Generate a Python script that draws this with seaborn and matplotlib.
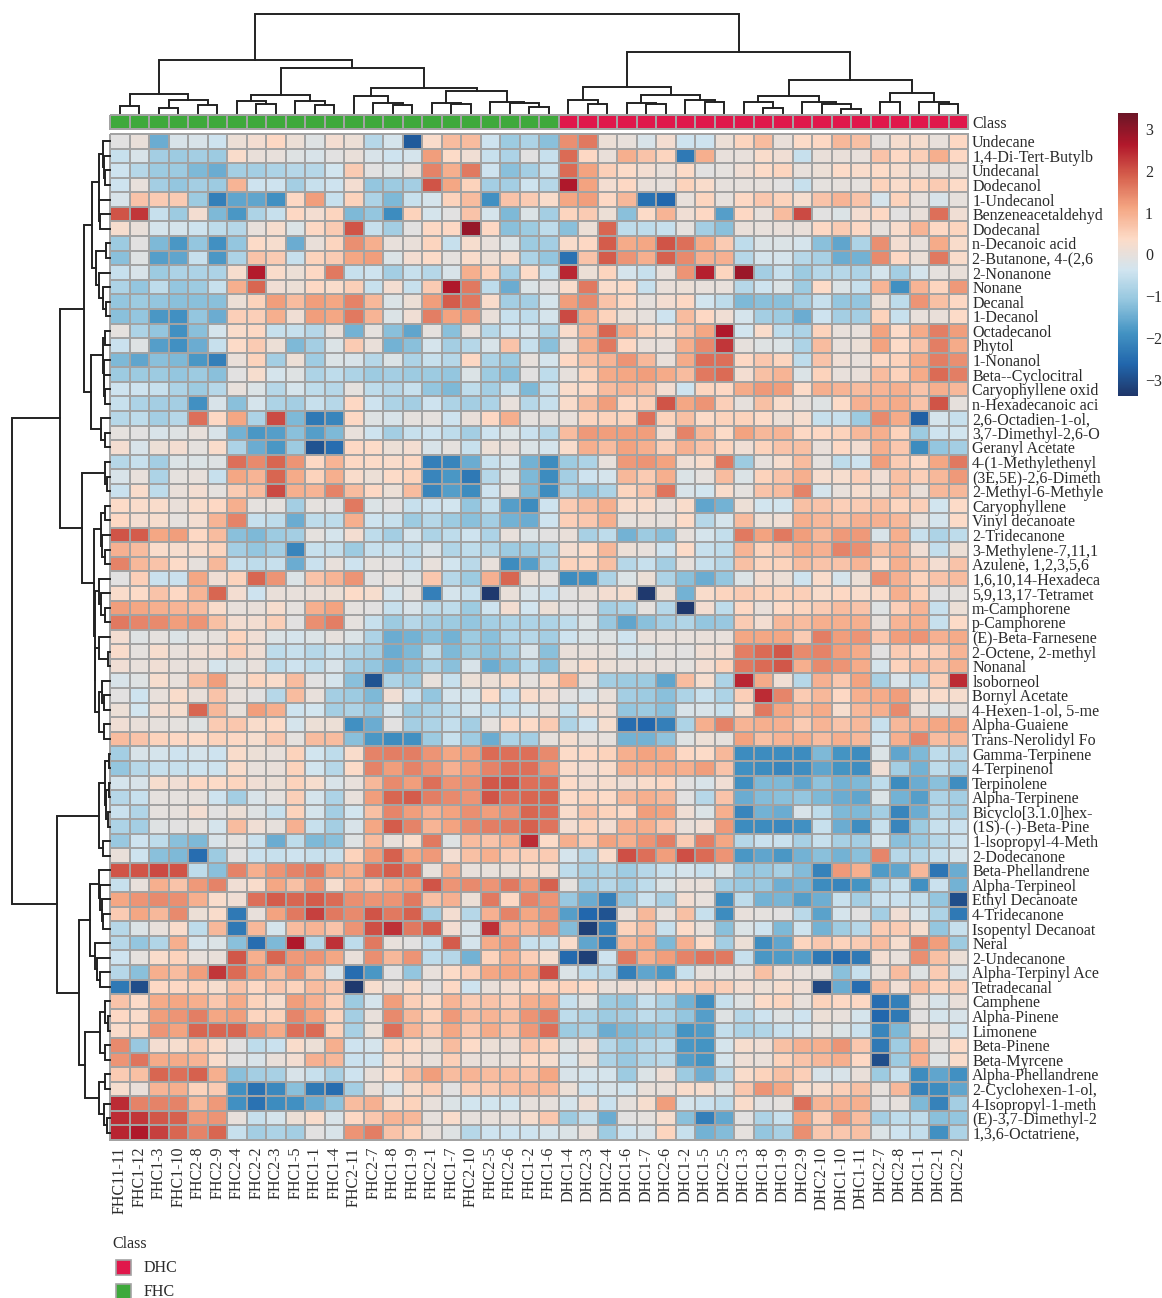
# Clustered heatmap of volatile compounds, FHC vs DHC samples
import numpy as np
import pandas as pd
import matplotlib
matplotlib.use('Agg')
import matplotlib.pyplot as plt
from matplotlib.colors import LinearSegmentedColormap, ListedColormap
from matplotlib.patches import Rectangle
import seaborn as sns

col_labels = ['FHC11-11', 'FHC1-12', 'FHC1-3', 'FHC1-10', 'FHC2-8', 'FHC2-9', 'FHC2-4', 'FHC2-2', 'FHC2-3',
              'FHC1-5', 'FHC1-1', 'FHC1-4', 'FHC2-11', 'FHC2-7', 'FHC1-8', 'FHC1-9', 'FHC2-1', 'FHC1-7',
              'FHC2-10', 'FHC2-5', 'FHC2-6', 'FHC1-2', 'FHC1-6', 'DHC1-4', 'DHC2-3', 'DHC2-4', 'DHC1-6',
              'DHC1-7', 'DHC2-6', 'DHC1-2', 'DHC1-5', 'DHC2-5', 'DHC1-3', 'DHC1-8', 'DHC1-9', 'DHC2-9',
              'DHC2-10', 'DHC1-10', 'DHC1-11', 'DHC2-7', 'DHC2-8', 'DHC1-1', 'DHC2-1', 'DHC2-2']

row_labels = ['Undecane', '1,4-Di-Tert-Butylb', 'Undecanal', 'Dodecanol', '1-Undecanol', 'Benzeneacetaldehyd',
              'Dodecanal', 'n-Decanoic acid', '2-Butanone, 4-(2,6', '2-Nonanone', 'Nonane', 'Decanal', '1-Decanol',
              'Octadecanol', 'Phytol', '1-Nonanol', 'Beta--Cyclocitral', 'Caryophyllene oxid', 'n-Hexadecanoic aci',
              '2,6-Octadien-1-ol,', '3,7-Dimethyl-2,6-O', 'Geranyl Acetate', '4-(1-Methylethenyl',
              '(3E,5E)-2,6-Dimeth', '2-Methyl-6-Methyle', 'Caryophyllene', 'Vinyl decanoate', '2-Tridecanone',
              '3-Methylene-7,11,1', 'Azulene, 1,2,3,5,6', '1,6,10,14-Hexadeca', '5,9,13,17-Tetramet', 'm-Camphorene',
              'p-Camphorene', '(E)-Beta-Farnesene', '2-Octene, 2-methyl', 'Nonanal', 'lsoborneol', 'Bornyl Acetate',
              '4-Hexen-1-ol, 5-me', 'Alpha-Guaiene', 'Trans-Nerolidyl Fo', 'Gamma-Terpinene', '4-Terpinenol',
              'Terpinolene', 'Alpha-Terpinene', 'Bicyclo[3.1.0]hex-', '(1S)-(-)-Beta-Pine', '1-lsopropyl-4-Meth',
              '2-Dodecanone', 'Beta-Phellandrene', 'Alpha-Terpineol', 'Ethyl Decanoate', '4-Tridecanone',
              'Isopentyl Decanoat', 'Neral', '2-Undecanone', 'Alpha-Terpinyl Ace', 'Tetradecanal', 'Camphene',
              'Alpha-Pinene', 'Limonene', 'Beta-Pinene', 'Beta-Myrcene', 'Alpha-Phellandrene', '2-Cyclohexen-1-ol,',
              '4-Isopropyl-1-meth', '(E)-3,7-Dimethyl-2', '1,3,6-Octatriene,']

# first 22 columns of the heatmap
values_left = [
    [-.1,.05,-1.5,-.25,-.25,-.4,.1,.2,.4,.1,-.15,.2,.1,-.7,-.3,-2.8,.3,.8,.8,-.4,-1.0,-.8],
    [-.5,-.25,-.9,-1.0,-.9,-1.0,.3,.05,0,-.15,-.25,-.1,.05,-.25,-.4,-.3,1.2,.35,.15,-.5,-.8,-.1],
    [-.4,-.7,-1.0,-1.0,-1.3,-1.5,-.9,-.9,-.8,-.7,-.7,-.35,.6,-.1,-.2,.05,1.5,1.0,1.6,-.4,-1.2,-.9],
    [-.4,0,-.9,-1.1,-.9,-1.0,.9,-.4,-.4,-.9,-.5,-.4,.2,-1.1,-1.0,-.9,2.0,1.1,.5,-.9,-.9,-.4],
    [-.25,.7,.6,.6,-1.0,-2.2,-1.6,-1.6,-1.9,.4,1.2,-.5,.5,-.8,-1.3,-.5,-.3,.5,.8,-1.9,.7,.6],
    [2.0,2.3,-.5,-1.0,.2,-1.3,-1.8,-.8,-.5,.4,.2,.45,-1.3,-1.1,-2.0,.5,-.3,-.1,.7,-.3,-1.3,-.2],
    [.25,.05,-.3,-.3,-.4,-.6,-.7,0,.25,-.2,.4,.6,2.0,-.5,-.9,-.1,.4,.4,2.9,.4,-1.2,-1.0],
    [-1.0,-.1,-1.3,-1.8,-1.1,-1.9,-1.1,.35,.25,-1.5,.05,.45,1.35,1.0,.0,.05,.45,-.5,.25,0,-.2,-1.0],
    [-1.2,-.15,-1.7,-1.6,-.5,-1.8,-.8,.7,.6,-.5,.5,.6,1.1,1.2,-.2,.2,.35,-.05,.3,.1,.25,-.8],
    [-.5,-.25,-1.0,-.8,-.8,-.8,.25,2.6,.3,.1,.4,1.6,-.5,-.4,-.9,-.5,-.7,-.25,1.0,.5,-.9,.35],
    [-.8,-1.1,-.6,-1.1,-1.0,-.5,1.0,1.8,.15,.1,.4,.3,.55,-.5,.2,-.5,.6,2.65,1.6,-.6,-1.5,-.2],
    [-1.1,-1.0,-1.1,-1.2,-1.2,-1.2,.1,.5,1.2,.8,1.2,1.1,1.5,.85,-.2,.1,1.2,1.9,1.6,.3,-.9,-.9],
    [-1.2,-1.1,-1.8,-1.9,-1.1,-1.5,.55,.55,1.0,.15,1.2,1.1,1.6,.9,-.2,.15,1.55,1.15,1.25,.05,-.5,-.6],
    [-.05,-.8,-1.1,-1.9,-1.2,-.3,.3,.4,-.5,-.5,-.7,0,-1.4,-.05,-1.2,-1.6,-.05,-1.2,0,-.7,-.4,-.3],
    [-.45,-.15,-1.7,-1.9,-1.5,-.5,.35,.6,.1,-1.3,-.9,-.2,.6,.05,-1.4,-1.2,-.3,-.9,-.7,-.25,.7,-.5],
    [-1.3,-1.6,-1.2,-1.3,-1.8,-2.2,.05,.5,-.9,.1,-.95,-.2,-.25,-.7,-.2,-.8,-.5,-.7,.4,-.8,-1.0,.0],
    [-1.0,-1.0,-1.0,-1.1,-1.0,-1.2,-.1,.25,-.3,-.15,-.8,-.6,-.8,-1.0,-.9,-1.0,-1.0,-1.1,-.2,-1.0,-1.2,-.1],
    [-.4,-.4,-.5,-.8,-1.0,-.7,0,-.2,-.7,-.3,-.6,-.7,-.05,-.6,-.7,-.5,-1.1,-1.3,-.6,-.9,-.5,-1.3],
    [-.5,-.8,-.9,-.9,-1.9,-.25,-1.2,-.3,-.8,-.9,-.5,-.7,.4,-.4,-.8,-.9,-.4,-.8,-.9,-.8,0,-.7],
    [-.7,-.6,-.9,-.7,1.7,.4,1.1,-.8,2.1,-1.3,-2.3,-2.1,.4,-.15,-.25,-.05,-.05,-.4,.05,.4,1.0,-.05],
    [-.05,-.1,-.25,-.15,0,-.25,-1.4,-1.8,-1.7,-1.2,-1.7,-1.3,0,-.4,-.9,-.5,-.4,-.6,-.9,-.4,-.2,-.45],
    [.2,-.25,.1,.2,-.05,.3,-.8,-1.5,-1.8,-1.0,-2.9,-2.5,.4,.35,.1,.2,-.25,-.05,-.5,.1,.05,-.2],
    [-.7,-.5,-.9,-.2,-.2,-.15,1.7,1.4,1.8,1.3,.4,.9,.4,.35,.3,.4,-2.2,-2.1,-1.5,-.5,-.3,-1.4],
    [-.25,.02,-.8,-.05,0,-.5,1.1,.9,1.8,1.05,.5,1.0,.3,.1,.35,.5,-2.1,-1.8,-2.3,-.7,-.2,-1.3],
    [-.45,.3,-.6,.05,.2,-.05,.6,.8,2.1,1.0,.9,1.5,.8,.4,.1,.8,-2.1,-1.7,-2.0,-.4,-.05,-1.3],
    [.35,.3,.3,.05,.3,.4,1.0,-.05,-.05,-.9,-.05,-.1,1.6,-.2,-.1,-.5,-.4,-.35,-1.1,-.5,-1.7,-2.0],
    [.4,.2,.25,-.05,.2,.9,1.5,-.5,-.6,-1.5,-.6,-.6,1.0,-.4,-.5,-1.0,-.7,-1.0,-1.2,-.9,-1.4,-1.5],
    [2.0,1.9,1.1,1.2,.4,.8,-1.2,-1.3,-1.0,-.9,-.05,-.3,.2,-.6,-.9,-.3,-.8,-.6,-.4,-.8,0,-.2],
    [.95,.8,.3,.25,.3,.45,-.9,-1.1,-.9,-2.1,-.5,-.55,-1.0,-.5,-.5,-.6,-.25,-.75,-.6,-.7,-1.0,-.95],
    [1.5,.85,.7,.35,-.02,.85,-.5,-.6,-.5,-1.5,-.45,.0,-.4,-.05,-.1,-.45,0,-.35,-.65,.0,-2.0,-1.7],
    [-.1,.55,-.45,-.45,1.1,.15,.5,1.8,1.3,-.2,.7,.9,1.3,-.1,.0,-.15,.65,-.7,-1.0,.95,1.8,.1],
    [.3,.35,.7,.4,.9,1.8,.2,-.4,.05,0,.05,.1,.35,.25,-.3,-.05,-2.2,-.3,-.5,-3.3,.05,-.25],
    [1.2,1.1,1.0,.9,.8,.3,0,.05,.25,-.05,1.0,1.15,-.05,-.1,-.5,-.25,-.6,-.6,-1.0,-.4,.2,-.35],
    [1.6,1.45,1.4,1.2,1.3,.75,.2,.2,.55,-.1,1.35,1.55,-.05,-.5,-1.0,-.7,-.9,-1.0,-1.1,-.9,-.8,-.8],
    [.2,-.15,-.05,-.2,-.05,-.02,.45,.15,-.2,-.3,-.2,-.02,-.2,-.8,-1.5,-1.4,-1.2,-1.4,-1.0,-1.2,-.75,-.7],
    [.3,-.05,.25,0,.15,.2,.55,.15,-.6,-.5,-.7,-.5,-.75,-.9,-1.5,-1.3,-.6,-1.3,-1.0,-1.2,-.9,-.25],
    [.15,0,.15,0,.05,-.3,-.15,0,-.6,-.4,-.6,-.25,-.9,-1.1,-1.4,-1.2,-.8,-1.2,-.25,-1.5,-1.2,-.6],
    [-.25,-.15,.25,0,.75,1.2,.05,.45,.3,.8,-.1,-.3,-1.2,-2.9,-.8,-1.0,0,-.5,.1,.1,.3,-.05],
    [-.1,-.4,0,.3,.05,.7,0,-.1,-.7,.8,0,-.9,-1.0,-1.3,.15,-.45,-1.1,-.3,-.3,.35,-.45,.3],
    [.1,-.35,.2,.25,1.8,.85,0,1.2,1.0,-.4,-.35,-.9,-.8,-1.1,-.3,-1.0,-.8,-.6,-.3,-.5,-.5,-.3],
    [.15,.05,-.02,-.05,-.15,.6,.65,.3,.35,-.3,.1,.1,-1.9,-1.5,-.1,-.9,-.8,-.55,-.9,-.05,.4,.35],
    [.8,.7,.5,.4,.35,.5,.4,.25,.65,-.05,.8,.8,-1.2,-1.8,-2.0,-1.9,-1.0,-.5,-.95,-1.5,-.8,-.9],
    [-.9,-.25,-.3,-.4,-.3,-.4,.3,.1,0,.5,-.35,-.6,.3,1.5,1.55,1.55,1.3,1.1,1.2,1.75,1.7,1.7],
    [-1.1,-.7,-.5,-.5,-.4,-.4,.3,0,.03,.5,-.35,-.7,.35,1.5,1.2,1.5,1.3,.95,1.2,1.5,1.7,1.7],
    [-.3,-.25,.25,.15,.4,.35,.45,.15,.1,.5,.25,-.25,.0,.85,1.4,1.2,1.7,1.3,1.35,1.95,2.0,1.7],
    [-.7,-.5,-.05,-.05,-.02,-.4,-.9,-.25,-.05,.55,-.3,-.8,0,1.2,1.8,1.9,1.55,1.4,1.3,2.0,1.7,1.8],
    [-.45,-.75,-.05,-.02,.2,-.1,.1,-.15,-.5,.5,-.3,-.9,-.35,.75,1.45,1.2,.95,1.15,1.35,1.2,1.35,1.8],
    [-.8,-.9,-.15,-.1,-.05,-.3,.8,.15,-.02,.95,-.5,-.9,-.25,1.1,1.9,1.5,.9,1.15,1.4,1.55,1.6,1.85],
    [-1.05,-.4,-.6,-1.2,-1.3,-.25,-.05,-.45,-1.5,-.6,-1.3,-1.2,-.15,.8,.0,.3,1.6,-.15,.8,.7,1.0,2.4],
    [.03,-.4,-1.2,-1.3,-2.5,-1.0,-.1,-.45,-.5,-.4,-.5,-.5,.5,1.2,1.85,1.1,1.25,.2,.75,1.0,.6,.55],
    [2.0,2.0,2.1,2.0,-.6,-1.2,1.5,1.0,1.3,1.5,1.6,1.1,1.0,1.7,1.9,1.7,0,1.0,0,0,.03,.25],
    [-.5,0,1.0,.7,1.25,1.5,.15,.3,1.1,.75,1.3,.25,.9,.6,1.0,1.15,2.0,1.3,1.4,1.3,1.6,1.25],
    [1.1,1.3,1.4,1.35,1.0,.3,.15,1.7,1.9,1.8,1.9,1.75,1.35,1.3,1.3,1.6,.75,.95,.1,1.6,.4,1.5],
    [.6,1.1,.85,1.4,.1,.3,-2.3,0,1.15,1.6,2.2,1.6,1.4,2.0,1.6,1.85,-.9,.2,-.7,.95,1.5,1.1],
    [-.7,-.2,0,.3,-.6,.85,-2.3,.85,-.3,.8,.9,.7,1.3,2.05,2.35,1.6,1.9,.2,-.25,2.35,.9,.9],
    [-.7,-1.1,-.75,1.0,-.3,-.2,-1.2,-2.5,-1.3,2.65,-.7,2.35,-.6,1.6,.02,-.1,-.5,1.9,-.3,1.05,1.25,-.5],
    [-.4,-.05,.3,.5,0,.05,1.95,1.0,1.8,1.25,1.3,1.1,.05,1.35,.85,1.3,-.6,-.7,-1.4,.5,1.0,.55],
    [-.7,-1.2,1.0,.8,1.2,2.3,1.75,1.2,.85,1.3,.75,-.25,-2.5,-1.8,-.1,-1.1,0,.35,.55,1.1,1.15,1.1],
    [-2.3,-3.0,.4,.4,.45,.25,.7,.4,.65,.5,.8,.65,-3.3,.25,.05,.3,-.1,.4,-.4,.05,.2,.35],
    [.7,.35,1.05,1.1,1.0,.65,1.05,.5,.25,1.2,.95,.55,-1.0,-.3,1.2,.55,.35,.9,.6,.7,.55,1.0],
    [.4,.3,1.2,1.3,1.55,1.1,1.2,.45,.5,1.45,1.15,.45,-.9,0,1.4,.85,.5,1.25,.8,.9,.75,1.3],
    [.3,.45,1.3,1.15,1.8,1.8,1.8,1.3,1.05,1.7,1.75,.5,-.85,.1,1.7,.9,.6,1.1,.65,1.05,.7,1.25],
    [1.4,-1.05,.2,.25,.6,.3,-.1,-.6,-.45,.3,.1,1.0,-.4,-.3,.5,.35,.1,.8,.35,.1,.05,.65],
    [1.3,1.65,1.05,1.05,.9,.3,-.1,-.25,.05,.2,.95,.85,-.45,-.4,.25,.2,0,.55,.05,0,.0,.35],
    [.6,.75,1.8,1.7,1.85,1.0,-1.2,-.9,-.85,-.25,-.5,-.85,-.4,.05,.35,.8,1.2,.8,.9,.8,.8,.7],
    [.25,.05,.9,1.0,.5,.6,-1.9,-2.4,-2.05,-1.2,-2.3,-2.5,-.9,.05,-.25,.25,.55,-.1,.55,.6,.75,.85],
    [2.4,1.5,1.5,1.5,.85,1.25,-1.9,-2.4,-2.0,-1.9,-1.5,-1.15,.8,.95,.3,.5,0,-.2,-.35,-.35,-.35,-.02],
    [2.4,2.3,1.95,1.85,1.25,1.3,0,-.5,-.3,.1,.3,-.25,.4,.65,.9,.85,-.02,.3,-.02,0,.05,.25],
    [2.5,2.65,2.2,1.8,1.5,1.8,-.5,-.9,-.8,-.9,-.1,-.25,1.3,1.55,.7,.5,0,-.15,-.7,-.4,-.4,-.4],
]

# remaining 22 columns
values_right = [
    [-1.2,1.35,1.6,.1,.02,-.25,.2,-.4,-.4,.1,.45,.8,.03,.35,.4,.85,.75,-.05,.25,.25,.02,.4],
    [-.5,1.75,.4,.05,1.0,.7,.45,-2.3,1.0,0,.02,.3,.15,-.5,.05,.05,.02,.7,.4,.55,1.0,.4],
    [-.5,1.75,1.15,.55,.35,.2,.03,.35,-.1,-.05,.15,.35,.45,0,.1,.35,.3,.35,.25,.05,-.02,0],
    [-.7,2.65,1.15,.2,.4,.05,0,.5,.3,-.02,-.02,-.02,-.1,-.5,-.05,-.02,-.05,.5,.3,.45,.6,.35],
    [.3,1.1,1.2,.4,.85,-2.4,-2.6,.02,.45,-.02,.4,.65,.5,.25,.7,.9,.7,-.3,.5,-.02,-.25,-.02],
    [-.9,.45,.6,.1,-1.2,.35,.9,.15,.4,-1.7,.4,.02,.8,2.1,-.1,-.2,.2,.4,-.1,.05,1.7,.15],
    [-.6,-1.2,.1,1.8,-.6,-.6,-.5,-.05,-.9,-1.2,.05,.02,.03,.05,.4,.6,.4,-.02,.3,.9,.4,.45],
    [-.9,.3,.4,1.9,1.05,1.1,2.0,1.7,1.05,.6,-.6,-.2,-.2,-.3,-1.2,-1.6,-.8,1.35,.2,0,1.05,.3],
    [-1.1,-2.4,.7,1.9,1.3,1.0,1.85,1.4,.95,.95,-.7,-.3,-.3,-.7,-.85,-1.5,-1.4,1.4,.4,.1,1.6,.3],
    [-.5,2.45,.1,.45,-.3,-.5,0,1.3,2.55,.45,2.85,-.9,-.5,-1.0,-.7,-.7,-.8,-.3,-.9,-.3,-.05,.05],
    [-.1,.3,1.6,.3,.35,-.5,.03,.1,.0,.02,-.7,-.4,-.2,-1.0,.35,-.2,-.5,.9,-1.9,.9,.45,1.25],
    [-.3,1.2,1.4,.7,.4,-.02,.2,.4,-.35,-.6,-1.3,-1.2,-1.2,-.9,-.5,-1.1,-1.1,.1,-.6,1.3,.75,.4],
    [-.3,2.1,1.0,.5,.1,-.02,-.4,.8,.4,.15,-.3,-.9,-1.0,-1.5,-.4,-.9,-.9,.5,-.5,.02,.05,.35],
    [-.8,.3,.9,1.8,1.0,.5,.25,.7,1.1,2.65,-.35,.3,-.6,-.8,.5,.02,0,1.15,.35,1.05,1.55,1.2],
    [-1.2,-.02,1.0,1.6,.4,.05,.02,1.0,1.4,2.3,-.02,-.15,-.2,-.8,.8,.02,.1,1.15,.35,.7,1.55,1.05],
    [-.3,.4,.75,.9,1.3,.85,.05,1.05,1.7,1.7,.4,.65,.45,-.6,.7,.15,.02,.4,.5,1.05,1.55,1.35],
    [-.6,-.02,.5,1.05,1.1,1.2,1.05,.8,1.6,1.75,.2,.75,.9,-.2,.5,0,.05,.8,.5,1.05,1.75,1.55],
    [-.5,.3,.4,.8,.9,.75,.2,-.4,.45,.4,1.05,1.25,1.2,.35,1.0,.9,.8,.9,1.0,.7,1.0,.85],
    [-.5,.3,.8,1.2,.4,.55,2.0,1.1,1.3,.55,-.02,.75,.3,.02,-.15,.35,.95,1.0,1.05,.7,2.0,-.02],
    [-.02,0,.45,.5,.5,1.7,.5,.75,.35,.5,.5,.35,.1,.25,-.5,-.5,-1.0,1.4,1.05,-2.7,-.3,-.5],
    [-.7,.8,1.25,1.2,1.2,1.2,.2,1.5,.85,.35,1.15,.85,.9,.4,.4,.5,.85,1.0,.5,-1.0,-.4,-.35],
    [-.3,.3,1.0,.8,1.15,1.0,.55,.95,.7,.45,.15,.5,.7,.75,.05,.4,.2,1.0,.65,-2.0,-1.1,-.9],
    [-2.0,-1.0,-.8,.02,1.25,1.3,1.15,.15,.3,1.6,-1.0,-.02,.25,.8,-.05,-.6,-.4,1.2,.6,.35,1.1,1.6],
    [-2.0,-.9,-.4,-.3,.85,.6,1.0,-.2,-.05,.8,-.2,.5,.7,1.0,.25,.25,.55,.15,.75,.55,.85,1.25],
    [-2.0,-.8,-1.1,-.8,.45,.7,1.65,-.25,-.35,.3,-.03,.7,.8,1.5,-.3,.02,.25,.1,.75,.05,.85,.85],
    [-.4,.6,.8,1.0,.3,.3,0,.3,-1.6,-1.4,.1,-.35,-.35,.75,.7,.55,.6,.75,.45,.55,-.35,.35],
    [-.4,.55,.65,1.0,-.02,.05,-.02,.35,-.7,-.3,.8,.1,.15,1.0,.85,.75,.95,.95,.85,.05,-.3,.35],
    [-.1,.05,-.85,-.6,-1.4,-1.0,-1.2,-.02,-.3,-.55,1.6,1.15,1.6,1.2,.85,1.25,1.25,-.25,1.0,-.5,-.8,-.6],
    [-.75,.2,.35,.85,.1,.0,-.4,.35,-.5,-.6,.9,.5,.7,1.05,.95,1.5,1.35,.75,.95,.15,-.55,.1],
    [-.7,.5,.45,.75,-.7,-.5,-.9,-.02,-.5,-.7,.75,.45,.5,.8,.7,.7,.9,.35,1.0,.6,.2,.7],
    [-.05,-2.0,-1.9,-.8,-.2,.1,-.8,-1.2,-1.5,-1.1,-.2,.2,.1,-.4,.3,-.3,.1,1.35,.95,.5,.7,.8],
    [-.45,-.1,.05,.2,.25,-3.3,.1,-1.4,.3,.45,.6,.5,.5,.55,.3,.4,.3,.3,1.0,.5,-.1,-.03],
    [.1,-.1,-.1,-.9,-.8,-.05,-.7,-3.3,.2,-.6,.4,.03,.35,.45,.6,.8,.7,-.15,.55,.9,-.5,.1],
    [-.8,-.6,-.2,-1.05,-1.6,-1.2,-.9,-.75,-1.1,-1.05,.6,.2,.85,.8,1.0,1.0,1.0,-.02,.9,1.0,-.5,.35],
    [-.9,-.4,-.2,-.15,-.4,.03,.02,0,.03,.02,1.1,1.1,1.1,.6,1.55,1.2,1.3,.65,1.2,1.3,.95,1.05],
    [-1.2,.05,0,0,-.25,-.2,-.03,-.08,.15,.2,1.55,1.75,1.95,1.4,1.5,1.2,1.05,-.1,.6,.4,.55,.9],
    [-1.2,.1,.3,.08,0,.03,0,-.05,.2,.5,1.6,1.75,1.95,1.0,1.4,1.3,1.05,-.3,.5,.8,.7,1.0],
    [.3,1.0,0,-.9,-1.0,-1.0,-1.6,.8,.25,-.8,2.45,1.05,.15,-.7,.95,.65,1.15,-.85,-.25,-.6,.55,2.4],
    [.2,-.1,-.25,.05,-.9,-1.0,-1.2,-.8,-.5,-.8,.55,2.4,1.45,.6,.85,.4,1.0,1.05,1.2,.25,.3,.25],
    [0,-.5,.25,.15,-1.1,-1.0,-1.2,-.25,-.25,-.5,.25,1.6,1.1,.85,1.05,.25,.85,1.0,1.4,.05,-.2,-.02],
    [.6,-.8,-.4,.25,-2.5,-2.6,-2.2,-.8,1.0,1.5,.9,1.0,.95,.6,.9,.7,.85,-.5,.85,.95,1.1,1.15],
    [-.02,.25,.03,-.02,-1.4,-1.4,-1.15,-.15,.1,-.02,1.15,.75,.9,1.0,.8,1.0,.85,-.35,1.0,1.45,.8,.85],
    [1.4,.35,.4,.5,1.0,1.15,1.05,.4,.35,.85,-2.0,-2.0,-2.0,-2.0,-1.3,-1.85,-2.0,-.2,-1.6,-1.3,-.6,-.7],
    [1.3,.3,.2,.3,1.0,1.0,1.05,1.0,1.2,.7,-1.9,-2.0,-2.1,-1.95,-1.6,-1.85,-1.95,.15,-.9,-1.4,-.6,-.8],
    [1.7,.35,.2,.25,.15,.3,.4,-.1,-.25,.15,-1.9,-1.3,-1.3,-1.6,-1.15,-1.4,-1.3,-.6,-2.0,-1.5,-1.2,-1.95],
    [1.8,.35,.45,.35,.85,1.0,.85,-.1,-.7,.7,-1.5,-1.25,-1.2,-1.1,-1.3,-1.5,-1.6,-.2,-1.4,-1.7,-.8,-.9],
    [1.7,.3,.7,.5,.4,1.2,1.15,.15,-.2,1.0,-2.1,-1.4,-1.5,-.25,-.6,-1.3,-1.3,-.9,-2.1,-1.5,-.7,-.9],
    [1.65,.2,.5,.2,.95,1.0,.65,.05,.15,1.25,-2.0,-2.0,-2.05,-1.9,-.5,-1.5,-1.95,-.5,-2.1,-1.0,-.5,-.45],
    [.35,1.0,.6,1.15,1.0,1.3,1.55,.6,1.55,1.1,-.7,-.45,-.45,-.85,-.5,-.85,-.9,-.3,-1.2,-1.05,-.7,-.4],
    [.6,-.3,-.7,.3,2.05,1.7,1.2,2.05,1.75,1.3,-1.8,-1.6,-1.8,-1.4,-1.2,-1.4,-1.2,1.45,-.7,-.7,-.5,-.3],
    [.2,-.6,-.85,-.8,-.95,-.7,-.5,-.3,-.5,-.2,-1.05,-1.05,-.85,-1.25,-2.15,1.25,1.0,-1.75,-1.6,.85,-2.35,-1.5],
    [1.85,-.05,-.9,-.7,-.9,-.6,-.2,.03,.05,-.9,-1.05,-1.05,-1.45,-1.35,-2.0,-2.1,-1.85,-.7,-.5,-1.9,-.45,-1.4],
    [1.3,-1.05,-1.5,-2.2,-1.05,-.45,-.85,.2,.0,-1.95,-.6,-1.4,-1.35,-1.7,-1.45,-.5,-.9,-.45,-.45,-.55,-1.1,-3.0],
    [1.3,-1.7,-2.6,-2.9,.05,.85,.0,.75,-.5,-2.0,0,-.05,-.1,-.65,-1.65,-.3,-.1,-.9,.15,-.3,-.8,-2.3],
    [1.25,-1.25,-3.2,-2.2,.5,.75,-.5,.35,.02,-1.2,-.2,-.4,-1.3,-.4,-1.4,-.95,-.7,.6,.6,.25,-1.1,-.5],
    [-.5,.3,-1.6,-2.3,.85,1.05,-1.3,.95,.35,-.9,.1,-1.95,-1.6,.45,.65,.5,.6,.8,.25,1.55,1.2,-1.0],
    [.25,-2.55,-3.2,-.4,1.6,1.0,1.2,1.5,1.65,1.6,-.5,-1.8,-1.75,-1.7,-2.3,-2.5,-2.3,.2,.02,1.35,.75,.1],
    [2.05,-.2,-.6,-.7,-2.2,-1.6,-1.8,-.5,-.02,-.05,.02,.75,.15,.02,-.02,-1.2,-.5,.02,.8,-.15,.6,-.25],
    [.45,.5,.35,.03,.15,.15,.4,.45,.6,.55,.2,.1,.25,.15,-3.1,-1.5,-2.5,.8,.15,.8,.5,.55],
    [1.05,-.5,-.15,-1.0,-1.1,-.5,-.85,-1.4,-1.95,-.5,-.15,.35,.45,0,.5,.4,.4,-2.5,-2.2,0,-.25,.03],
    [1.55,-.6,-.8,-1.0,-.9,-.6,-.8,-1.1,-1.7,-.15,-.7,-.4,-.15,-.4,.1,.02,-.3,-2.6,-2.3,-.1,-.3,-.25],
    [1.7,-1.0,-.85,-1.5,-1.3,-1.2,-1.1,-1.85,-1.75,-.55,-.8,-.75,-.5,-.3,-.03,-.2,-.45,-2.1,-1.3,.08,.03,-.35],
    [.5,-.15,.15,-.7,-1.0,-.7,-.6,-1.8,-1.85,-.3,.25,.15,.75,.95,1.0,1.3,.65,-2.3,-.95,.9,-.05,.35],
    [.25,-.3,.08,-.8,-1.05,-.75,-.65,-1.7,-1.85,-.3,.12,.05,.5,.7,.85,1.0,.4,-3.0,-1.0,.95,-.15,.3],
    [1.1,-.25,-.3,-.3,-1.0,-.2,.12,-1.0,-1.45,-.7,.3,.5,.75,.55,-.25,-.25,.05,-1.0,-.5,-2.0,-1.6,-1.9],
    [.8,.08,-.4,-.25,-.35,.05,.05,.3,.25,-.15,.65,1.3,1.1,.3,.25,.55,.75,-.02,.85,-2.15,-2.0,-1.6],
    [-.02,-.3,.15,-.45,-.02,.25,1.2,-.3,-.45,-.6,.3,-.1,-.05,1.7,.9,.95,1.0,-.1,-.02,-1.3,-2.15,-.9],
    [.65,-1.0,-.55,-1.5,-.1,-.03,.25,-1.2,-2.2,-1.6,-.1,-.8,-.5,1.15,.55,1.25,.8,-.9,-.6,-.6,-1.2,-1.1],
    [-.3,-.2,0,-.95,-.4,-.25,.45,-.5,-1.4,-1.25,-.05,-1.1,-.85,1.35,.65,.65,.75,-.2,-.4,-.55,-1.9,-.8],
]

# dendrograms: (merge height, child, child), leaves are positions in the heatmap order
col_tree = (99.3,
    (53,
        (19, (7, 0, 1), (12.7, (5, 2, 3), (7.7, 4, 5))),
        (45,
            (18, (12, 6, (9.3, 7, 8)), (12.3, 9, (7.7, 10, 11))),
            (24.7,
                (17, 12, (9.7, 13, (7.7, 14, 15))),
                (22, (9.7, 16, (9.3, 17, 18)), (11, 19, (10.3, 20, (6, 21, 22))))))),
    (61,
        (26,
            (13, 23, (9, 24, 25)),
            (18, (10, 26, (9, 27, 28)), (13, 29, (10.7, 30, 31)))),
        (33,
            (16.7, (10.7, 32, (5, 33, 34)), (11.3, 35, (8.7, 36, (4, 37, 38)))),
            (20, (10.7, 39, 40), (11.3, 41, (9, 42, 43))))))

row_tree = (98,
    (50,
        (25.5,
            (18,
                (11.4,
                    (7.2, 0, (6, 1, (4.5, 2, 3))),
                    (11, 4, (10, 5, 6))),
                (14, (3.5, 7, 8), (10.5, 9, (7, 10, (3.5, 11, 12))))),
            (18.6,
                (7.2, (4.5, 13, 14), (6.2, 15, (5.5, 16, (5, 17, 18)))),
                (9, 19, (4.5, 20, 21)))),
        (28,
            (5, 22, (2.5, 23, 24)),
            (16,
                (9.3, (5, 25, 26), (8, 27, (4.5, 28, 29))),
                (15,
                    (10.7, 30, (9, 31, (5, 32, 33))),
                    (14.5,
                        (11.4, 34, (1.5, 35, 36)),
                        (11.4, (7.6, 37, (6, 38, 39)), (6, 40, 41))))))),
    (52.7,
        (11.4,
            (5.2, (1, 42, 43), (4, (1, 44, 45), (2, 46, 47))),
            (7, 48, 49)),
        (31,
            (20,
                (11, 50, (9.6, 51, (8, 52, (6.5, 53, 54)))),
                (14.8, 55, (13, 56, (9.6, 57, 58)))),
            (25,
                (9.6, (5, 59, (2, 60, 61)), (5, 62, 63)),
                (11.4, (5, 64, 65), (6, 66, (2.5, 67, 68)))))))

class_names = ['DHC', 'FHC']
class_colors = ['#e0174b', '#3ea93b']
cbar_ticks = [-3, -2, -1, 0, 1, 2, 3]
scale_colors = ['#1f3669', '#2166ac', '#4393c3', '#92c5de', '#d1e5f0',
                '#fddbc7', '#f4a582', '#d6604d', '#b2182b', '#6b1526']

W, H = 1162, 1298
sns.set_theme(style='white')
plt.rcParams['font.family'] = ['Liberation Serif', 'DejaVu Serif']
TXT = '#2a2a2a'
GRID = '#a3a3a3'
FS = 11.5

fig = plt.figure(figsize=(W / 100, H / 100), dpi=100)


def px_axes(x0, y0, x1, y1):
    a = fig.add_axes([x0 / W, 1 - y1 / H, (x1 - x0) / W, (y1 - y0) / H])
    return a


def draw_tree(ax, node, orient):
    # returns (leaf position, merge height) of the node
    if not isinstance(node, tuple):
        return node + 0.5, 0
    h, a, b = node
    p1, h1 = draw_tree(ax, a, orient)
    p2, h2 = draw_tree(ax, b, orient)
    xs, ys = [p1, p1, p2, p2], [h1, h, h, h2]
    if orient == 'top':
        ax.plot(xs, ys, color='#222222', lw=1.4, solid_capstyle='projecting', solid_joinstyle='miter')
    else:
        ax.plot(ys, xs, color='#222222', lw=1.4, solid_capstyle='projecting', solid_joinstyle='miter')
    return (p1 + p2) / 2, h


# main heatmap
matrix = pd.DataFrame(np.hstack([values_left, values_right]), index=row_labels, columns=col_labels)
cmap = LinearSegmentedColormap.from_list('rdbu_soft', scale_colors, N=256)
ax = px_axes(110, 134, 968, 1140)
cax = px_axes(1118, 113, 1138, 396)
sns.heatmap(matrix, ax=ax, cmap=cmap, vmin=-3.37, vmax=3.37, linewidths=1.2, linecolor=GRID,
            cbar_ax=cax, cbar_kws={'ticks': cbar_ticks}, xticklabels=True, yticklabels=True)
ax.collections[0].set_clip_on(False)
ax.tick_params(axis='y', length=0, left=False, right=False, labelleft=False, labelright=True, labelsize=FS,
               labelcolor=TXT, rotation=0, pad=3)
ax.tick_params(axis='x', length=0, bottom=False, labelsize=FS, labelcolor=TXT, rotation=90, pad=5)
ax.set_xlabel('')
ax.set_ylabel('')
cax.tick_params(axis='y', length=0, labelsize=FS, labelcolor=TXT, pad=5)
cax.set_yticklabels(['\u2212' + str(abs(t)) if t < 0 else str(t) for t in cbar_ticks])
for s in cax.spines.values():
    s.set_visible(False)
ax.collections[0].colorbar.outline.set_visible(False)

# class strip above the heatmap
class_ids = [[class_names.index(c[:3]) for c in col_labels]]
ax_class = px_axes(110, 115, 968, 129)
sns.heatmap(class_ids, ax=ax_class, cmap=ListedColormap(class_colors), vmin=0, vmax=1, cbar=False,
            linewidths=1.2, linecolor=GRID, xticklabels=False, yticklabels=['Class'])
ax_class.collections[0].set_clip_on(False)
ax_class.tick_params(axis='y', length=0, left=False, labelleft=False, labelright=True, labelsize=FS,
                     labelcolor=TXT, rotation=0, pad=3)

# dendrograms
ax_top = px_axes(110, 13.7, 968, 113)
ax_top.set_xlim(0, len(col_labels))
ax_top.set_ylim(0, 99.3)
draw_tree(ax_top, col_tree, 'top')
ax_top.axis('off')
for ln in ax_top.lines:
    ln.set_clip_on(False)

ax_left = px_axes(12, 134, 110, 1140)
ax_left.set_ylim(len(row_labels), 0)
ax_left.set_xlim(98, 0)
draw_tree(ax_left, row_tree, 'left')
ax_left.axis('off')
for ln in ax_left.lines:
    ln.set_clip_on(False)

# class legend, bottom left
fig.text(112 / W, 1 - 1244 / H, 'Class', fontsize=FS, color=TXT, va='center', ha='left')
for name, color, y0 in zip(class_names, class_colors, [1260, 1284]):
    fig.add_artist(Rectangle((116 / W, 1 - (y0 + 15) / H), 15 / W, 15 / H, transform=fig.transFigure,
                             facecolor=color, edgecolor=GRID, lw=1.2))
    fig.text(144 / W, 1 - (y0 + 8) / H, name, fontsize=FS, color=TXT, va='center', ha='left')

fig.savefig('out.png', dpi=100)
